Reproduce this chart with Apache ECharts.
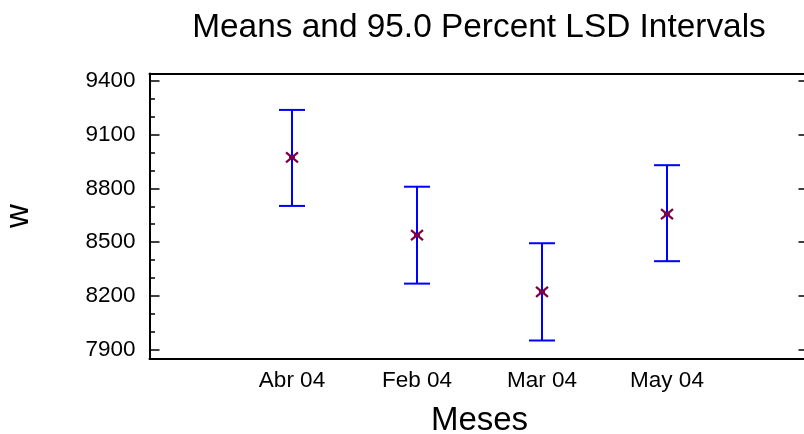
<!DOCTYPE html>
<html>
<head>
<meta charset="utf-8">
<script src="https://cdn.jsdelivr.net/npm/echarts@6/dist/echarts.min.js"></script>
<style>
html,body{margin:0;padding:0;background:#fff;}
#chart{width:804px;height:434px;}
</style>
</head>
<body>
<div id="chart"></div>
<script>
var categories = ['Abr 04', 'Feb 04', 'Mar 04', 'May 04'];
var means = [8973, 8539, 8223, 8656];
var lowerLimits = [8702, 8269, 7952, 8394];
var upperLimits = [9237, 8809, 8494, 8929];
var yMajorTicks = [7900, 8200, 8500, 8800, 9100, 9400];
var yMinorTicks = [8000, 8100, 8300, 8400, 8600, 8700, 8900, 9000, 9200, 9300];
var xPositions = [1, 2, 3, 4];

var FONT = 'Liberation Sans, Arial, sans-serif';
var chart = echarts.init(document.getElementById('chart'), null, {renderer: 'canvas'});

var seriesData = categories.map(function (c, i) {
  return [xPositions[i], means[i], lowerLimits[i], upperLimits[i]];
});

var yBase = {
  type: 'value', min: 7850, max: 9440, offset: 0,
  splitLine: {show: false}
};
var xBase = {
  type: 'value', min: -0.14, max: 5.14, offset: 0, splitLine: {show: false}
};

var option = {
  animation: false,
  backgroundColor: '#ffffff',
  title: {
    text: 'Means and 95.0 Percent LSD Intervals',
    left: 474, top: 6, textAlign: 'center',
    textStyle: {fontFamily: FONT, fontSize: 33.4, fontWeight: 'normal', color: '#000'}
  },
  grid: {left: 149.5, top: 73.5, right: -5.5, bottom: 75.2, containLabel: false, outerBoundsMode: 'none'},
  xAxis: [
    Object.assign({}, xBase, {
      position: 'bottom',
      name: 'Meses', nameLocation: 'middle', nameGap: 46,
      nameTextStyle: {fontFamily: FONT, fontSize: 33, color: '#000'},
      axisLine: {show: true, onZero: false, lineStyle: {color: '#000', width: 2}},
      axisTick: {show: false},
      axisLabel: {
        customValues: xPositions,
        formatter: function (v) { return categories[Math.round(v) - 1] || ''; },
        fontFamily: FONT, fontSize: 22.5, color: '#000', margin: 10
      }
    }),
    Object.assign({}, xBase, {
      position: 'top',
      axisLine: {show: true, onZero: false, lineStyle: {color: '#000', width: 2}},
      axisTick: {show: false}, axisLabel: {show: false}
    })
  ],
  yAxis: [
    Object.assign({}, yBase, {
      position: 'left',
      name: 'w', nameLocation: 'middle', nameGap: 114, nameRotate: 90,
      nameTextStyle: {fontFamily: FONT, fontSize: 33, color: '#000'},
      axisLine: {show: true, onZero: false, lineStyle: {color: '#000', width: 2}},
      axisTick: {show: true, inside: true, length: 10, customValues: yMajorTicks, lineStyle: {color: '#000', width: 1.5}},
      axisLabel: {customValues: yMajorTicks, formatter: function (v) { return String(v); },
        fontFamily: FONT, fontSize: 22.5, color: '#000', margin: 14}
    }),
    Object.assign({}, yBase, {
      position: 'right',
      axisLine: {show: true, onZero: false, lineStyle: {color: '#000', width: 2}},
      axisTick: {show: true, inside: true, length: 11, customValues: yMajorTicks, lineStyle: {color: '#000', width: 1.5}},
      axisLabel: {show: false}
    }),
    Object.assign({}, yBase, {
      position: 'left',
      axisLine: {show: false, onZero: false},
      axisTick: {show: true, inside: true, length: 5.5, customValues: yMinorTicks, lineStyle: {color: '#000', width: 1.5}},
      axisLabel: {show: false}
    })
  ],
  series: [{
    type: 'custom',
    xAxisIndex: 0, yAxisIndex: 0,
    data: seriesData,
    clip: false,
    renderItem: function (params, api) {
      var x = api.value(0);
      var pm = api.coord([x, api.value(1)]);
      var pl = api.coord([x, api.value(2)]);
      var pu = api.coord([x, api.value(3)]);
      var cap = 13;
      var blue = {stroke: '#0000ff', lineWidth: 2};
      var red = {stroke: '#800040', lineWidth: 2.2};
      return {
        type: 'group',
        children: [
          {type: 'line', shape: {x1: pu[0], y1: pu[1], x2: pl[0], y2: pl[1]}, style: blue},
          {type: 'line', shape: {x1: pu[0] - cap, y1: pu[1], x2: pu[0] + cap, y2: pu[1]}, style: blue},
          {type: 'line', shape: {x1: pl[0] - cap, y1: pl[1], x2: pl[0] + cap, y2: pl[1]}, style: blue},
          {type: 'line', shape: {x1: pm[0] - 6, y1: pm[1] - 5, x2: pm[0] + 6, y2: pm[1] + 5}, style: red},
          {type: 'line', shape: {x1: pm[0] - 6, y1: pm[1] + 5, x2: pm[0] + 6, y2: pm[1] - 5}, style: red},
          {type: 'line', shape: {x1: pm[0] - 3, y1: pm[1], x2: pm[0] + 3, y2: pm[1]}, style: red}
        ]
      };
    }
  }]
};
chart.setOption(option);
</script>
</body>
</html>
